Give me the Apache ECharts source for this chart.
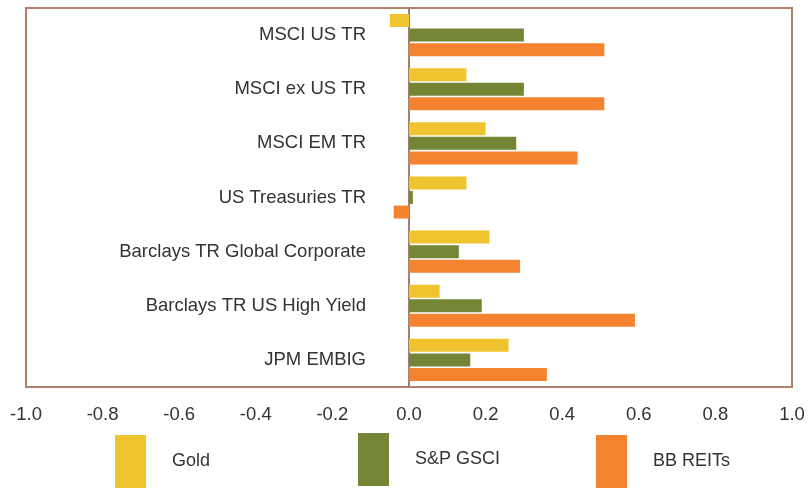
<!DOCTYPE html>
<html>
<head>
<meta charset="utf-8">
<script src="https://cdn.jsdelivr.net/npm/echarts@6/dist/echarts.min.js"></script>
<style>
  html, body { margin: 0; padding: 0; background: #fff; }
  #chart { width: 808px; height: 489px; }
</style>
</head>
<body>
<div id="chart"></div>
<script>
var categories = ['MSCI US TR', 'MSCI ex US TR', 'MSCI EM TR', 'US Treasuries TR',
    'Barclays TR Global Corporate', 'Barclays TR US High Yield', 'JPM EMBIG'];
var gold = [-0.05, 0.15, 0.20, 0.15, 0.21, 0.08, 0.26];
var gsci = [0.30, 0.30, 0.28, 0.01, 0.13, 0.19, 0.16];
var reits = [0.51, 0.51, 0.44, -0.04, 0.29, 0.59, 0.36];

var dom = document.getElementById('chart');
var myChart = echarts.init(dom);

function legendAt(name, left, top) {
    return {
        data: [name],
        left: left,
        top: top,
        padding: 0,
        icon: 'rect',
        itemWidth: 31,
        itemHeight: 53,
        textStyle: {fontSize: 18, color: '#333', fontFamily: 'Liberation Sans, Arial', padding: [2, 0, 0, 21]}
    };
}

// zero sits in the middle of the plot, so shift the category axis there
var plotLeft = 26, plotRight = 16, chartW = 808;
var zeroShift = (chartW - plotLeft - plotRight) / 2;

var option = {
    backgroundColor: '#ffffff',
    animation: false,
    legend: [
        legendAt('Gold', 115, 435),
        legendAt('S&P GSCI', 358, 433),
        legendAt('BB REITs', 596, 435)
    ],
    grid: {
        left: plotLeft, right: plotRight, top: 8, bottom: 102,
        containLabel: false,
        outerBoundsMode: 'none',
        show: true,
        borderColor: '#b08068',
        borderWidth: 2
    },
    xAxis: {
        type: 'value',
        min: -1,
        max: 1,
        interval: 0.2,
        splitLine: {show: false},
        axisLine: {show: false},
        axisTick: {show: false},
        axisLabel: {
            fontSize: 18.5,
            color: '#333',
            fontFamily: 'Liberation Sans, Arial',
            margin: 18,
            formatter: function (v) { return v.toFixed(1); }
        }
    },
    yAxis: {
        type: 'category',
        data: categories,
        inverse: true,
        position: 'left',
        offset: -zeroShift,
        axisLine: {onZero: false, lineStyle: {color: '#a08070', width: 2}},
        axisTick: {show: false},
        axisLabel: {fontSize: 18.5, color: '#333', fontFamily: 'Liberation Sans, Arial', margin: 43}
    },
    series: [
        {name: 'Gold', type: 'bar', data: gold, barWidth: 13, barGap: '12%', itemStyle: {color: '#f0c42e'}},
        {name: 'S&P GSCI', type: 'bar', data: gsci, barWidth: 13, barGap: '12%', itemStyle: {color: '#758536'}},
        {name: 'BB REITs', type: 'bar', data: reits, barWidth: 13, barGap: '12%', itemStyle: {color: '#f48331'}}
    ]
};

myChart.setOption(option);
</script>
</body>
</html>
